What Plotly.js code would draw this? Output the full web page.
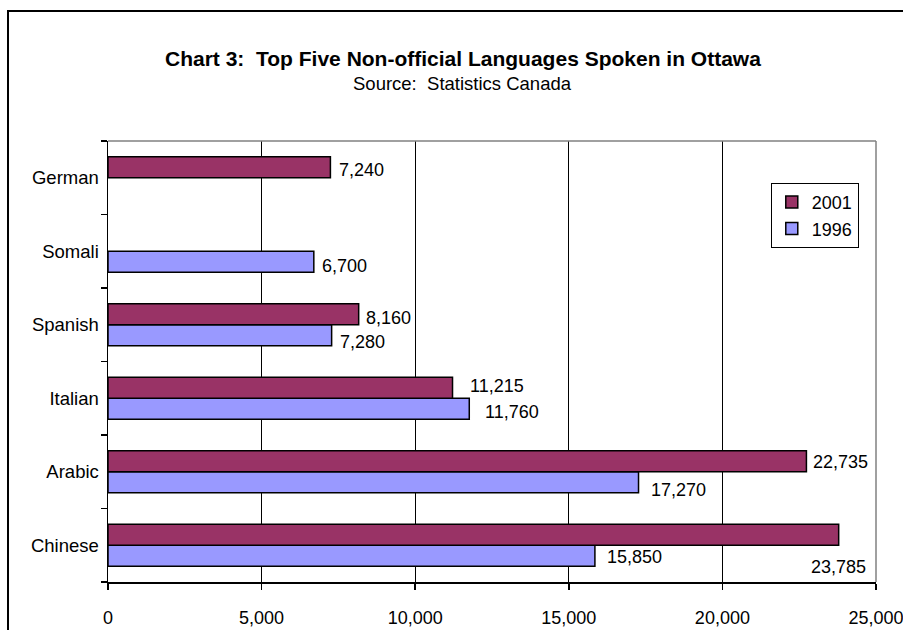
<!DOCTYPE html>
<html>
<head>
<meta charset="utf-8">
<script src="https://cdn.plot.ly/plotly-3.0.1.min.js"></script>
<style>
html,body{margin:0;padding:0;background:#fff;}
#chart{width:903px;height:630px;}
</style>
</head>
<body>
<div id="chart"></div>
<script>
// ---- data ----
const languages = ["Chinese", "Arabic", "Italian", "Spanish", "Somali", "German"];
const values1996 = [15850, 17270, 11760, 7280, 6700, null];
const values2001 = [23785, 22735, 11215, 8160, null, 7240];
const seriesNames = ["1996", "2001"];
const xTickValues = [0, 5000, 10000, 15000, 20000, 25000];
const xTickLabels = ["0", "5,000", "10,000", "15,000", "20,000", "25,000"];
const titleText = "Chart 3:  Top Five Non-official Languages Spoken in Ottawa";
const subtitleText = "Source:  Statistics Canada";

// ---- styling / layout ----
const FONT = "Arial, 'Liberation Sans', sans-serif";
const fmt = v => v.toLocaleString("en-US");

// label nudges in pixels [xshift, yshift] keyed by category (layout only)
const nudge2001 = {Chinese:[0,-22], Arabic:[5,10], Italian:[15,12], Spanish:[5,7], German:[7,8]};
const nudge1996 = {Chinese:[10,-12], Arabic:[10,-18], Italian:[14,-14], Spanish:[6,-17], Somali:[6,-15]};

const annotations = [];
languages.forEach((c, i) => {
  if (values2001[i] != null) {
    const n = nudge2001[c];
    const centered = (c === "Chinese");
    annotations.push({x: values2001[i], y: c, xref: "x", yref: "y", text: fmt(values2001[i]),
      showarrow: false, xanchor: centered ? "center" : "left", yanchor: "middle",
      xshift: n[0], yshift: n[1], font: {family: FONT, size: 18, color: "#000"}});
  }
  if (values1996[i] != null) {
    const n = nudge1996[c];
    annotations.push({x: values1996[i], y: c, xref: "x", yref: "y", text: fmt(values1996[i]),
      showarrow: false, xanchor: "left", yanchor: "middle",
      xshift: n[0], yshift: n[1], font: {family: FONT, size: 18, color: "#000"}});
  }
});
annotations.push({text: "<b>" + titleText.replace(/  /g, " &nbsp;") + "</b>", xref: "paper", yref: "paper",
  x: 0.4622, y: 1.188, xanchor: "center", yanchor: "middle", showarrow: false,
  font: {family: FONT, size: 21, color: "#000"}});
annotations.push({text: subtitleText.replace(/  /g, " &nbsp;"), xref: "paper", yref: "paper",
  x: 0.4616, y: 1.1315, xanchor: "center", yanchor: "middle", showarrow: false,
  font: {family: FONT, size: 18.5, color: "#000"}});

const traces = [
  {type: "bar", orientation: "h", name: seriesNames[0], y: languages, x: values1996,
   marker: {color: "#9999FF", line: {color: "#000", width: 1.5}}, legendrank: 2, hoverinfo: "x+name"},
  {type: "bar", orientation: "h", name: seriesNames[1], y: languages, x: values2001,
   marker: {color: "#993366", line: {color: "#000", width: 1.5}}, legendrank: 1, hoverinfo: "x+name"}
];

const layout = {
  width: 903, height: 630,
  margin: {l: 108, r: 27, t: 141, b: 48, pad: 0},
  paper_bgcolor: "#fff", plot_bgcolor: "#fff",
  font: {family: FONT, size: 18.5, color: "#000"},
  barmode: "group", bargap: 0.43, bargroupgap: 0,
  showlegend: true,
  legend: {x: 0.863, y: 0.905, xanchor: "left", yanchor: "top",
    bordercolor: "#000", borderwidth: 1, bgcolor: "#fff",
    font: {family: FONT, size: 18, color: "#000"}, itemwidth: 30, tracegroupgap: 0},
  xaxis: {range: [0, 25000], tickvals: xTickValues, ticktext: xTickLabels,
    showgrid: true, gridcolor: "#000", gridwidth: 1, zeroline: false,
    showline: true, linecolor: "#000", linewidth: 1.5,
    ticks: "outside", ticklen: 6, tickcolor: "#000", tickwidth: 1.5,
    ticklabeloverflow: "allow", automargin: false,
    ticklabelstandoff: 13, tickfont: {family: FONT, size: 18}, fixedrange: true},
  yaxis: {type: "category", categoryorder: "array", categoryarray: languages,
    showgrid: false, zeroline: false, showline: true, linecolor: "#000", linewidth: 1.5,
    ticks: "outside", tickson: "boundaries", ticklen: 6, tickcolor: "#000", tickwidth: 1.5,
    ticklabelstandoff: 4, tickfont: {family: FONT, size: 18.5}, fixedrange: true},
  shapes: [
    {type: "line", xref: "paper", yref: "paper", x0: 0, x1: 1, y0: 1, y1: 1, line: {color: "#808080", width: 1.5}},
    {type: "line", xref: "paper", yref: "paper", x0: 1, x1: 1, y0: 0, y1: 1, line: {color: "#808080", width: 1.5}},
    {type: "rect", xref: "paper", yref: "paper", x0: -0.1302, x1: 1.1, y0: -0.2, y1: 1.2948,
     line: {color: "#000", width: 2}, fillcolor: "rgba(0,0,0,0)", layer: "below"}
  ],
  annotations: annotations
};

Plotly.newPlot("chart", traces, layout, {displayModeBar: false, staticPlot: true});
</script>
</body>
</html>
